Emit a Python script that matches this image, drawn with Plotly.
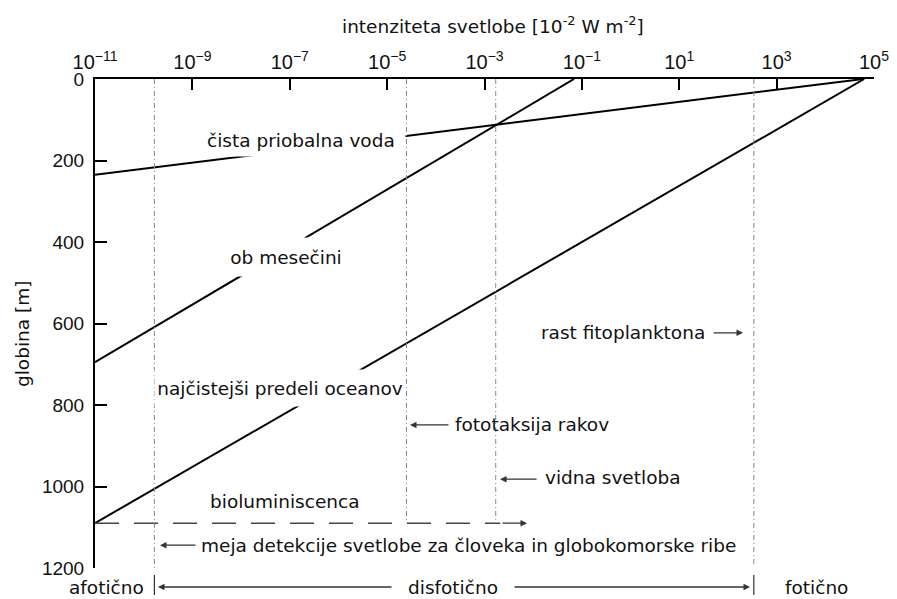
import plotly.graph_objects as go

# ---------------- data ----------------
x_tick_vals = [1e-11, 1e-9, 1e-7, 1e-5, 1e-3, 1e-1, 1e1, 1e3, 1e5]
x_tick_text = ["10<sup>−11</sup>", "10<sup>−9</sup>", "10<sup>−7</sup>", "10<sup>−5</sup>",
               "10<sup>−3</sup>", "10<sup>−1</sup>", "10<sup>1</sup>", "10<sup>3</sup>", "10<sup>5</sup>"]
y_tick_vals = [0, 200, 400, 600, 800, 1000, 1200]

# light intensity vs depth (end points of straight lines in log space)
coastal_intensity = [6.0e4, 1e-11]
coastal_depth = [0, 235]
moon_intensity = [0.069, 1e-11]
moon_depth = [0, 695]
ocean_intensity = [6.3e4, 1e-11]
ocean_depth = [0, 1090]

# thresholds (vertical reference lines)
human_fish_limit = 1.66e-10
crustacean_phototaxis = 2.5e-5
visible_light = 1.7e-3
phytoplankton_growth = 340

bioluminescence_depth = 1090
bioluminescence_intensity = [1e-11, 2.1e-3]

FONT = "DejaVu Sans"
NUMFONT = "Liberation Sans"

fig = go.Figure()

for xs, ys in [(coastal_intensity, coastal_depth), (moon_intensity, moon_depth),
               (ocean_intensity, ocean_depth)]:
    fig.add_trace(go.Scatter(x=xs, y=ys, mode="lines",
                             line=dict(color="black", width=2), showlegend=False,
                             hoverinfo="skip"))

fig.add_trace(go.Scatter(x=bioluminescence_intensity,
                         y=[bioluminescence_depth, bioluminescence_depth],
                         mode="lines", line=dict(color="#444", width=1.5, dash="24px,15px"),
                         showlegend=False, hoverinfo="skip"))

shapes = []
vdash = dict(color="#888", width=1, dash="5px,3px,1px,3px")
for xv, ybot in [(human_fish_limit, 1200), (crustacean_phototaxis, bioluminescence_depth),
                 (visible_light, bioluminescence_depth), (phytoplankton_growth, 1195)]:
    shapes.append(dict(type="line", xref="x", yref="y", x0=xv, x1=xv, y0=0, y1=ybot,
                       line=vdash, layer="above"))

# bottom zone bars
for xv in [human_fish_limit, phytoplankton_growth]:
    shapes.append(dict(type="line", xref="x", yref="paper", x0=xv, x1=xv,
                       y0=-0.0143, y1=-0.0552, line=dict(color="#333", width=1.2)))

ann = []
tf = dict(family=FONT, size=18.5, color="#111")

# labels masking the lines
ann.append(dict(x=-8.72, y=150, xref="x", yref="y", text="čista priobalna voda",
                showarrow=False, xanchor="left", align="left", width=198, height=32,
                bgcolor="white", borderpad=0, font=tf))
ann.append(dict(x=-7.077, y=437, xref="x", yref="y", text="ob mesečini",
                showarrow=False, width=116, height=38, bgcolor="white", borderpad=0, font=tf))
ann.append(dict(x=-7.20, y=758, xref="x", yref="y", text="najčistejši predeli oceanov",
                showarrow=False, width=250, height=36, bgcolor="white", borderpad=0, font=tf))
ann.append(dict(x=-8.68, y=1037, xref="x", yref="y", text="bioluminiscenca",
                showarrow=False, xanchor="left", font=tf))

# labels with arrows
ann.append(dict(x=1.57, y=623, xref="x", yref="y", text="rast fitoplanktona",
                showarrow=False, xanchor="right", font=tf))
ann.append(dict(x=-3.648, y=849, xref="x", yref="y", text="fototaksija rakov",
                showarrow=False, xanchor="left", font=tf))
ann.append(dict(x=-1.80, y=977, xref="x", yref="y", text="vidna svetloba",
                showarrow=False, xanchor="left", font=tf))
ann.append(dict(x=-8.864, y=1144, xref="x", yref="y",
                text="meja detekcije svetlobe za človeka in globokomorske ribe",
                showarrow=False, xanchor="left", font=tf))

arrow = dict(showarrow=True, text="", arrowhead=2, arrowsize=1, arrowwidth=1.3,
             arrowcolor="#333", standoff=0, startstandoff=0, axref="pixel", ayref="pixel")
for xt, yt, axp in [(2.31, 623, -31), (-4.53, 849, 40), (-2.68, 982, 38),
                    (-9.665, 1144, 37), (-2.127, bioluminescence_depth, -26)]:
    ann.append(dict(x=xt, y=yt, xref="x", yref="y", ax=axp, ay=0, **arrow))

# bottom zones
yb = -0.0389
ann.append(dict(x=-9.953, y=yb, xref="x", yref="paper", text="afotično",
                showarrow=False, xanchor="right", yanchor="middle", font=tf))
ann.append(dict(x=-3.657, y=yb, xref="x", yref="paper", text="disfotično",
                showarrow=False, xanchor="center", yanchor="middle", font=tf))
ann.append(dict(x=3.13, y=yb, xref="x", yref="paper", text="fotično",
                showarrow=False, xanchor="left", yanchor="middle", font=tf))
ann.append(dict(x=-9.706, y=yb, xref="x", yref="paper", ax=235, ay=0, **arrow))
ann.append(dict(x=2.453, y=yb, xref="x", yref="paper", ax=-237, ay=0, **arrow))

# axis titles
ann.append(dict(x=0.511, y=1.110, xref="paper", yref="paper",
                text="intenziteta svetlobe [10<sup>-2</sup> W m<sup>-2</sup>]",
                showarrow=False, xanchor="center", yanchor="middle", font=tf))
ann.append(dict(x=-0.0937, y=0.4785, xref="paper", yref="paper", text="globina [m]",
                textangle=-90, showarrow=False, xanchor="center", yanchor="middle", font=tf))

fig.update_layout(
    width=897, height=599,
    margin=dict(l=95, r=23, t=79, b=31, autoexpand=False),
    plot_bgcolor="white", paper_bgcolor="white",
    shapes=shapes, annotations=ann, showlegend=False,
)
fig.update_xaxes(type="log", range=[-11, 5], side="top", showgrid=False, zeroline=False,
                 automargin=False,
                 showline=True, linecolor="black", linewidth=2, mirror=False,
                 ticks="inside", ticklen=11, tickwidth=1.5, tickcolor="black",
                 tickvals=x_tick_vals, ticktext=x_tick_text,
                 tickfont=dict(family=NUMFONT, size=20, color="#111"))
fig.update_yaxes(range=[1200, 0], showgrid=False, zeroline=False, automargin=False,
                 showline=True, linecolor="black", linewidth=2, mirror=False,
                 ticks="inside", ticklen=12, tickwidth=1.5, tickcolor="black",
                 tickvals=y_tick_vals, ticklabelstandoff=5,
                 tickfont=dict(family=NUMFONT, size=19, color="#111"))

fig.write_html("out.html", config={"displayModeBar": False},
               post_script="document.body.style.margin='0';document.body.style.overflow='hidden';")
